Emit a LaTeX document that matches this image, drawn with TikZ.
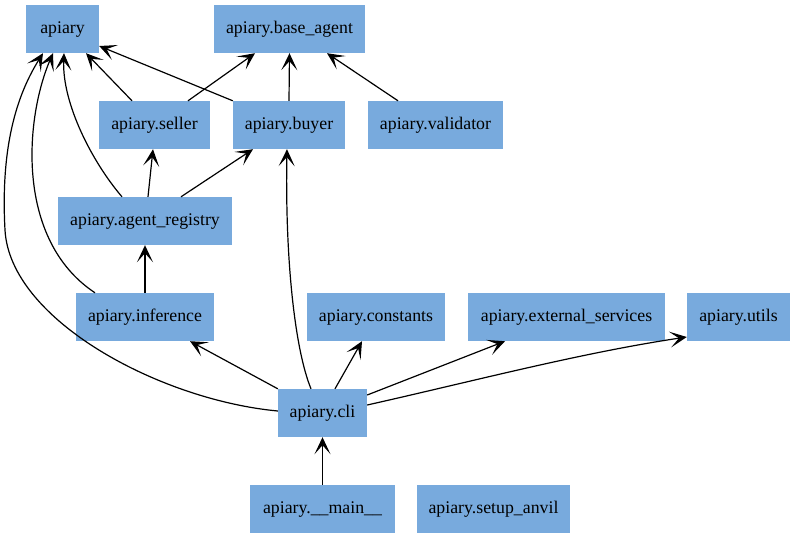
\documentclass[tikz,border=0pt]{standalone}
\usepackage{fontspec}
\setmainfont{Liberation Serif}
\usetikzlibrary{arrows.meta}
\definecolor{modfill}{RGB}{120,170,221}
\tikzset{
  mod/.style={fill=modfill, minimum height=48pt, inner sep=0pt,
    text height=0.9em, text depth=0pt,
    font=\fontsize{17.8pt}{21pt}\selectfont},
  dep/.style={line width=1.2pt, -{Stealth[length=17pt,width=16pt,inset=9pt]}}
}
\begin{document}
\begin{tikzpicture}[x=1pt,y=-1pt]
  \useasboundingbox (0,0) rectangle (795,539);
  \node[mod, minimum width=73pt] (api) at (62.5,29) {apiary};
  \node[mod, minimum width=151pt] (base) at (289.5,29) {apiary.base\_agent};
  \node[mod, minimum width=111pt] (seller) at (154.5,125) {apiary.seller};
  \node[mod, minimum width=112pt] (buyer) at (289,125) {apiary.buyer};
  \node[mod, minimum width=135pt] (valid) at (435.5,125) {apiary.validator};
  \node[mod, minimum width=174pt] (reg) at (145,221) {apiary.agent\_registry};
  \node[mod, minimum width=138pt] (inf) at (145,317) {apiary.inference};
  \node[mod, minimum width=138pt] (const) at (376,317) {apiary.constants};
  \node[mod, minimum width=197pt] (ext) at (566.5,317) {apiary.external\_services};
  \node[mod, minimum width=103pt] (utils) at (738.5,317) {apiary.utils};
  \node[mod, minimum width=89pt] (cli) at (322.5,413) {apiary.cli};
  \node[mod, minimum width=145pt] (main) at (322.5,509) {apiary.\_\_main\_\_};
  \node[mod, minimum width=153pt] (anvil) at (493.5,509) {apiary.setup\_anvil};
  % top rows
  \draw[dep] ([xshift=-22.5pt]seller.north) -- ([xshift=23.5pt]api.south);
  \draw[dep] (buyer.north west) -- ([yshift=-17pt]api.east);
  \draw[dep] ([xshift=33.5pt]seller.north) -- ([xshift=-34.5pt]base.south);
  \draw[dep] (buyer.north) -- (base.south);
  \draw[dep] ([xshift=-37.5pt]valid.north) -- ([xshift=37.5pt]base.south);
  \draw[dep] ([xshift=3pt]reg.north) -- ([xshift=-1.5pt]seller.south);
  \draw[dep] ([xshift=36pt]reg.north) -- ([xshift=-36pt]buyer.south);
  \draw[dep] ([xshift=-23pt]reg.north) .. controls +(-30,-35) and +(-2,50) .. ([xshift=1.5pt]api.south);
  % inference
  \draw[dep] (inf.north) -- (reg.south);
  \draw[dep] ([xshift=-50pt]inf.north) .. controls +(-80,-53) and +(-28,65) .. ([xshift=-9.5pt]api.south);
  % cli
  \draw[dep] ([yshift=2pt]cli.west) .. controls (160,400) and (10,320) .. (5,230)
    .. controls (0,140) and (20,90) .. ([xshift=-19.5pt]api.south);
  \draw[dep] (cli.north west) -- ([xshift=45pt]inf.south);
  \draw[dep] ([xshift=-11.5pt]cli.north) .. controls (295,350) and (285,260) .. ([xshift=-2pt]buyer.south);
  \draw[dep] ([xshift=12.5pt]cli.north) -- ([xshift=-14pt]const.south);
  \draw[dep] ([yshift=18pt]cli.east) -- ([xshift=-61.5pt]ext.south);
  \draw[dep] ([yshift=8pt]cli.east) .. controls (474,381) and (580,353) .. ([yshift=-20pt]utils.west);
  \draw[dep] (main.north) -- (cli.south);
\end{tikzpicture}
\end{document}
